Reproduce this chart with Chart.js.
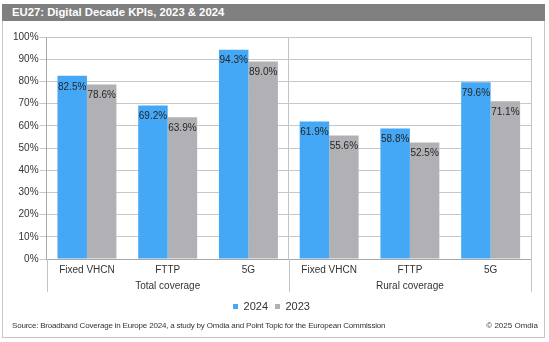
<!DOCTYPE html>
<html>
<head>
<meta charset="utf-8">
<script src="https://cdn.jsdelivr.net/npm/chart.js@4.4.1/dist/chart.umd.min.js"></script>
<style>
html,body{margin:0;padding:0;background:#fff;}
body{width:549px;height:342px;position:relative;overflow:hidden;font-family:"Liberation Sans",Arial,sans-serif;}
#frame{position:absolute;left:2px;top:4px;width:543px;height:334px;box-sizing:border-box;border:1px solid #c6c6c6;}
#title{position:absolute;left:2px;top:4px;width:543px;height:17px;background:#808080;color:#fff;font-weight:bold;font-size:11.3px;line-height:17px;padding-left:10px;box-sizing:border-box;white-space:nowrap;}
#wrap{position:absolute;left:0;top:0;width:549px;height:342px;}
#source{position:absolute;left:12px;top:320px;font-size:8px;letter-spacing:-0.2px;color:#333;line-height:11px;white-space:nowrap;}
#copy{position:absolute;right:11px;top:320px;font-size:8px;color:#333;line-height:11px;white-space:nowrap;}
</style>
</head>
<body>
<div id="frame"></div>
<div id="title">EU27: Digital Decade KPIs, 2023 &amp; 2024</div>
<div id="wrap"><canvas id="c"></canvas></div>
<div id="source">Source: Broadband Coverage in Europe 2024, a study by Omdia and Point Topic for the European Commission</div>
<div id="copy">© 2025 Omdia</div>
<script>
const categories = ['Fixed VHCN', 'FTTP', '5G', 'Fixed VHCN', 'FTTP', '5G'];
const groups = ['Total coverage', 'Rural coverage'];
const seriesNames = ['2024', '2023'];
const values2024 = [82.5, 69.2, 94.3, 61.9, 58.8, 79.6];
const values2023 = [78.6, 63.9, 89.0, 55.6, 52.5, 71.1];
const yMin = 0, yMax = 100, yStep = 10;

const FONT = '"Liberation Sans", Arial, sans-serif';
Chart.defaults.font.family = FONT;
Chart.defaults.color = '#333';

const barLabels = {
  id: 'barLabels',
  afterDatasetsDraw(chart) {
    const ctx = chart.ctx;
    ctx.save();
    ctx.font = '10px ' + FONT;
    ctx.fillStyle = '#262626';
    ctx.textAlign = 'center';
    ctx.textBaseline = 'middle';
    chart.data.datasets.forEach((ds, i) => {
      const meta = chart.getDatasetMeta(i);
      meta.data.forEach((el, j) => {
        ctx.fillText(ds.data[j].toFixed(1) + '%', el.x, el.y + 11);
      });
    });
    ctx.restore();
  }
};

// extend the group boundary lines down through the category and group label rows
const groupSeparators = {
  id: 'groupSeparators',
  afterDraw(chart) {
    const x = chart.scales.x, x2 = chart.scales.x2;
    const ctx = chart.ctx;
    const n = categories.length, per = n / groups.length;
    const half = (x.getPixelForValue(1) - x.getPixelForValue(0)) / 2;
    ctx.save();
    ctx.strokeStyle = '#c4c4c4';
    ctx.lineWidth = 1;
    for (let g = 0; g <= groups.length; g++) {
      const idx = g * per;
      const px = Math.round(idx < n ? x.getPixelForValue(idx) - half : x.getPixelForValue(n - 1) + half) + 0.5;
      ctx.beginPath();
      ctx.moveTo(px, x.top);
      ctx.lineTo(px, x2.top + 14);
      ctx.stroke();
    }
    ctx.restore();
  }
};

new Chart(document.getElementById('c'), {
  type: 'bar',
  data: {
    labels: categories,
    datasets: [
      { label: seriesNames[0], data: values2024, backgroundColor: '#44a8f6', borderWidth: 0, categoryPercentage: 0.73, barPercentage: 1.0 },
      { label: seriesNames[1], data: values2023, backgroundColor: '#b1b1b5', borderWidth: 0, categoryPercentage: 0.73, barPercentage: 1.0 }
    ]
  },
  options: {
    responsive: true,
    maintainAspectRatio: false,
    animation: false,
    layout: { padding: { left: 12, right: 18, top: 37, bottom: 20 } },
    plugins: {
      tooltip: { enabled: false },
      legend: {
        position: 'bottom',
        labels: { boxWidth: 5, boxHeight: 5, font: { size: 11 }, color: '#333', padding: 7 }
      }
    },
    scales: {
      x: {
        grid: {
          offset: true,
          color: c => (c.index === undefined || c.index % 3 === 0) ? '#c4c4c4' : 'rgba(0,0,0,0)',
          drawTicks: false
        },
        border: { color: '#a8a8a8' },
        ticks: { font: { size: 10, lineHeight: 1.0 }, color: '#333', padding: 6, maxRotation: 0, autoSkip: false },
        afterFit: s => { s.height -= 3; }
      },
      x2: {
        type: 'category',
        position: 'bottom',
        labels: groups,
        offset: true,
        grid: { display: false, drawTicks: false },
        border: { display: false },
        ticks: { font: { size: 10 }, color: '#333', padding: 2 }
      },
      y: {
        min: yMin, max: yMax,
        ticks: { stepSize: yStep, callback: v => v + '%', font: { size: 10 }, color: '#333', padding: 1 },
        grid: { color: '#c8c8c8', tickLength: 7 },
        border: { color: '#a8a8a8' }
      }
    }
  },
  plugins: [barLabels, groupSeparators]
});
</script>
</body>
</html>
